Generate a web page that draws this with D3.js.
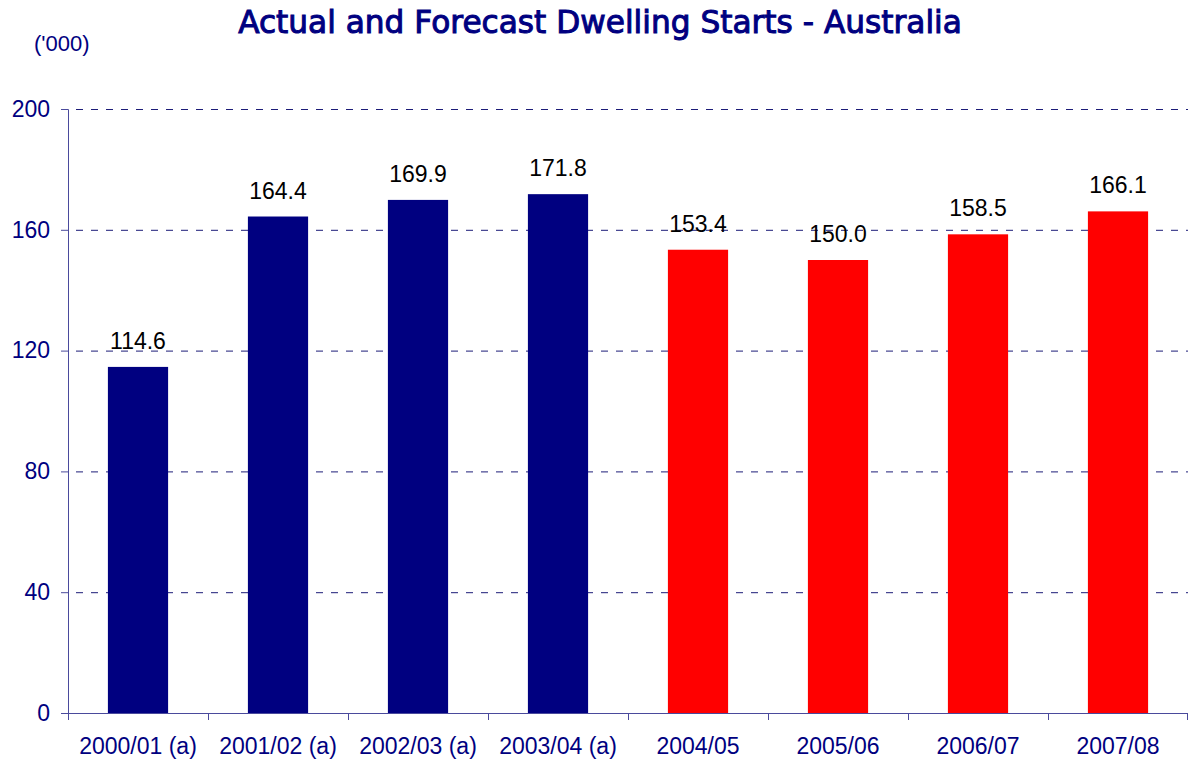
<!DOCTYPE html>
<html>
<head>
<meta charset="utf-8">
<script src="https://cdn.jsdelivr.net/npm/d3@7"></script>
<style>
  body { margin: 0; background: #fff; }
  svg { display: block; }
</style>
</head>
<body>
<svg width="1188" height="760"></svg>
<script>
var categories = ["2000/01 (a)", "2001/02 (a)", "2002/03 (a)", "2003/04 (a)", "2004/05", "2005/06", "2006/07", "2007/08"],
  starts = [114.6, 164.4, 169.9, 171.8, 153.4, 150.0, 158.5, 166.1],
  isForecast = [false, false, false, false, true, true, true, true],
  yTicks = [0, 40, 80, 120, 160, 200];

var navy = "#000080",
  axisColor = "#4a4a9c",
  labelFont = "Liberation Sans, Arial, sans-serif";

var svg = d3.select("svg"),
  margin = {top: 109, right: 0, bottom: 47, left: 68},
  width = 1188 - margin.left - margin.right,
  height = 760 - margin.top - margin.bottom;

var g = svg.append("g")
  .attr("transform", "translate(" + margin.left + "," + margin.top + ")");

var x = d3.scaleBand()
  .domain(categories)
  .range([0, width])
  .paddingInner(0.57)
  .paddingOuter(0.285);

var y = d3.scaleLinear()
  .domain([0, 200])
  .range([height, 0]);

// Dashed gridlines
g.append("g")
  .selectAll("line")
  .data(yTicks.filter(function(d) { return d > 0; }))
  .enter().append("line")
    .attr("x1", 0)
    .attr("x2", width)
    .attr("y1", function(d) { return y(d) + 0.5; })
    .attr("y2", function(d) { return y(d) + 0.5; })
    .attr("stroke", "#1c1c78")
    .attr("stroke-width", 1)
    .attr("stroke-dasharray", "7,8")
    .attr("stroke-dashoffset", -8);

// Bars
g.append("g")
  .selectAll("rect")
  .data(starts)
  .enter().append("rect")
    .attr("x", function(d, i) { return x(categories[i]); })
    .attr("y", function(d) { return y(d); })
    .attr("width", x.bandwidth())
    .attr("height", function(d) { return height - y(d); })
    .attr("fill", function(d, i) { return isForecast[i] ? "#ff0000" : navy; });

// Value labels
g.append("g")
  .selectAll("text")
  .data(starts)
  .enter().append("text")
    .attr("x", function(d, i) { return x(categories[i]) + x.bandwidth() / 2; })
    .attr("y", function(d) { return y(d) - 18; })
    .attr("text-anchor", "middle")
    .attr("font-family", labelFont)
    .attr("font-size", 23)
    .attr("fill", "#000")
    .text(function(d) { return d.toFixed(1); });

// Y axis
var yAxis = g.append("g")
  .call(d3.axisLeft(y).tickValues(yTicks).tickSize(7).tickPadding(11));
yAxis.select(".domain").attr("stroke", axisColor);
yAxis.selectAll(".tick line").attr("stroke", axisColor);
yAxis.selectAll("text")
  .attr("fill", navy)
  .attr("font-family", labelFont)
  .attr("font-size", 23);

// X axis with ticks at band boundaries
var xAxis = g.append("g")
  .attr("transform", "translate(0," + height + ")");
xAxis.append("line")
  .attr("x1", -7).attr("x2", width)
  .attr("y1", 0.5).attr("y2", 0.5)
  .attr("stroke", axisColor);
xAxis.selectAll(".sep")
  .data(d3.range(categories.length + 1))
  .enter().append("line")
    .attr("class", "sep")
    .attr("x1", function(i) { return Math.min(Math.round(i * x.step()) + 0.5, width - 0.5); })
    .attr("x2", function(i) { return Math.min(Math.round(i * x.step()) + 0.5, width - 0.5); })
    .attr("y1", 0)
    .attr("y2", 7)
    .attr("stroke", axisColor);
xAxis.selectAll("text")
  .data(categories)
  .enter().append("text")
    .attr("x", function(d) { return x(d) + x.bandwidth() / 2; })
    .attr("y", 41)
    .attr("text-anchor", "middle")
    .attr("font-family", labelFont)
    .attr("font-size", 23)
    .attr("fill", navy)
    .text(function(d) { return d; });

// Title and unit label
svg.append("text")
  .attr("x", 600)
  .attr("y", 33)
  .attr("text-anchor", "middle")
  .attr("font-family", "DejaVu Sans, Verdana, sans-serif")
  .attr("font-size", 31.2)
  .attr("fill", navy)
  .attr("stroke", navy)
  .attr("stroke-width", 1)
  .text("Actual and Forecast Dwelling Starts - Australia");

svg.append("text")
  .attr("x", 34)
  .attr("y", 51)
  .attr("font-family", labelFont)
  .attr("font-size", 22)
  .attr("fill", navy)
  .text("('000)");
</script>
</body>
</html>
